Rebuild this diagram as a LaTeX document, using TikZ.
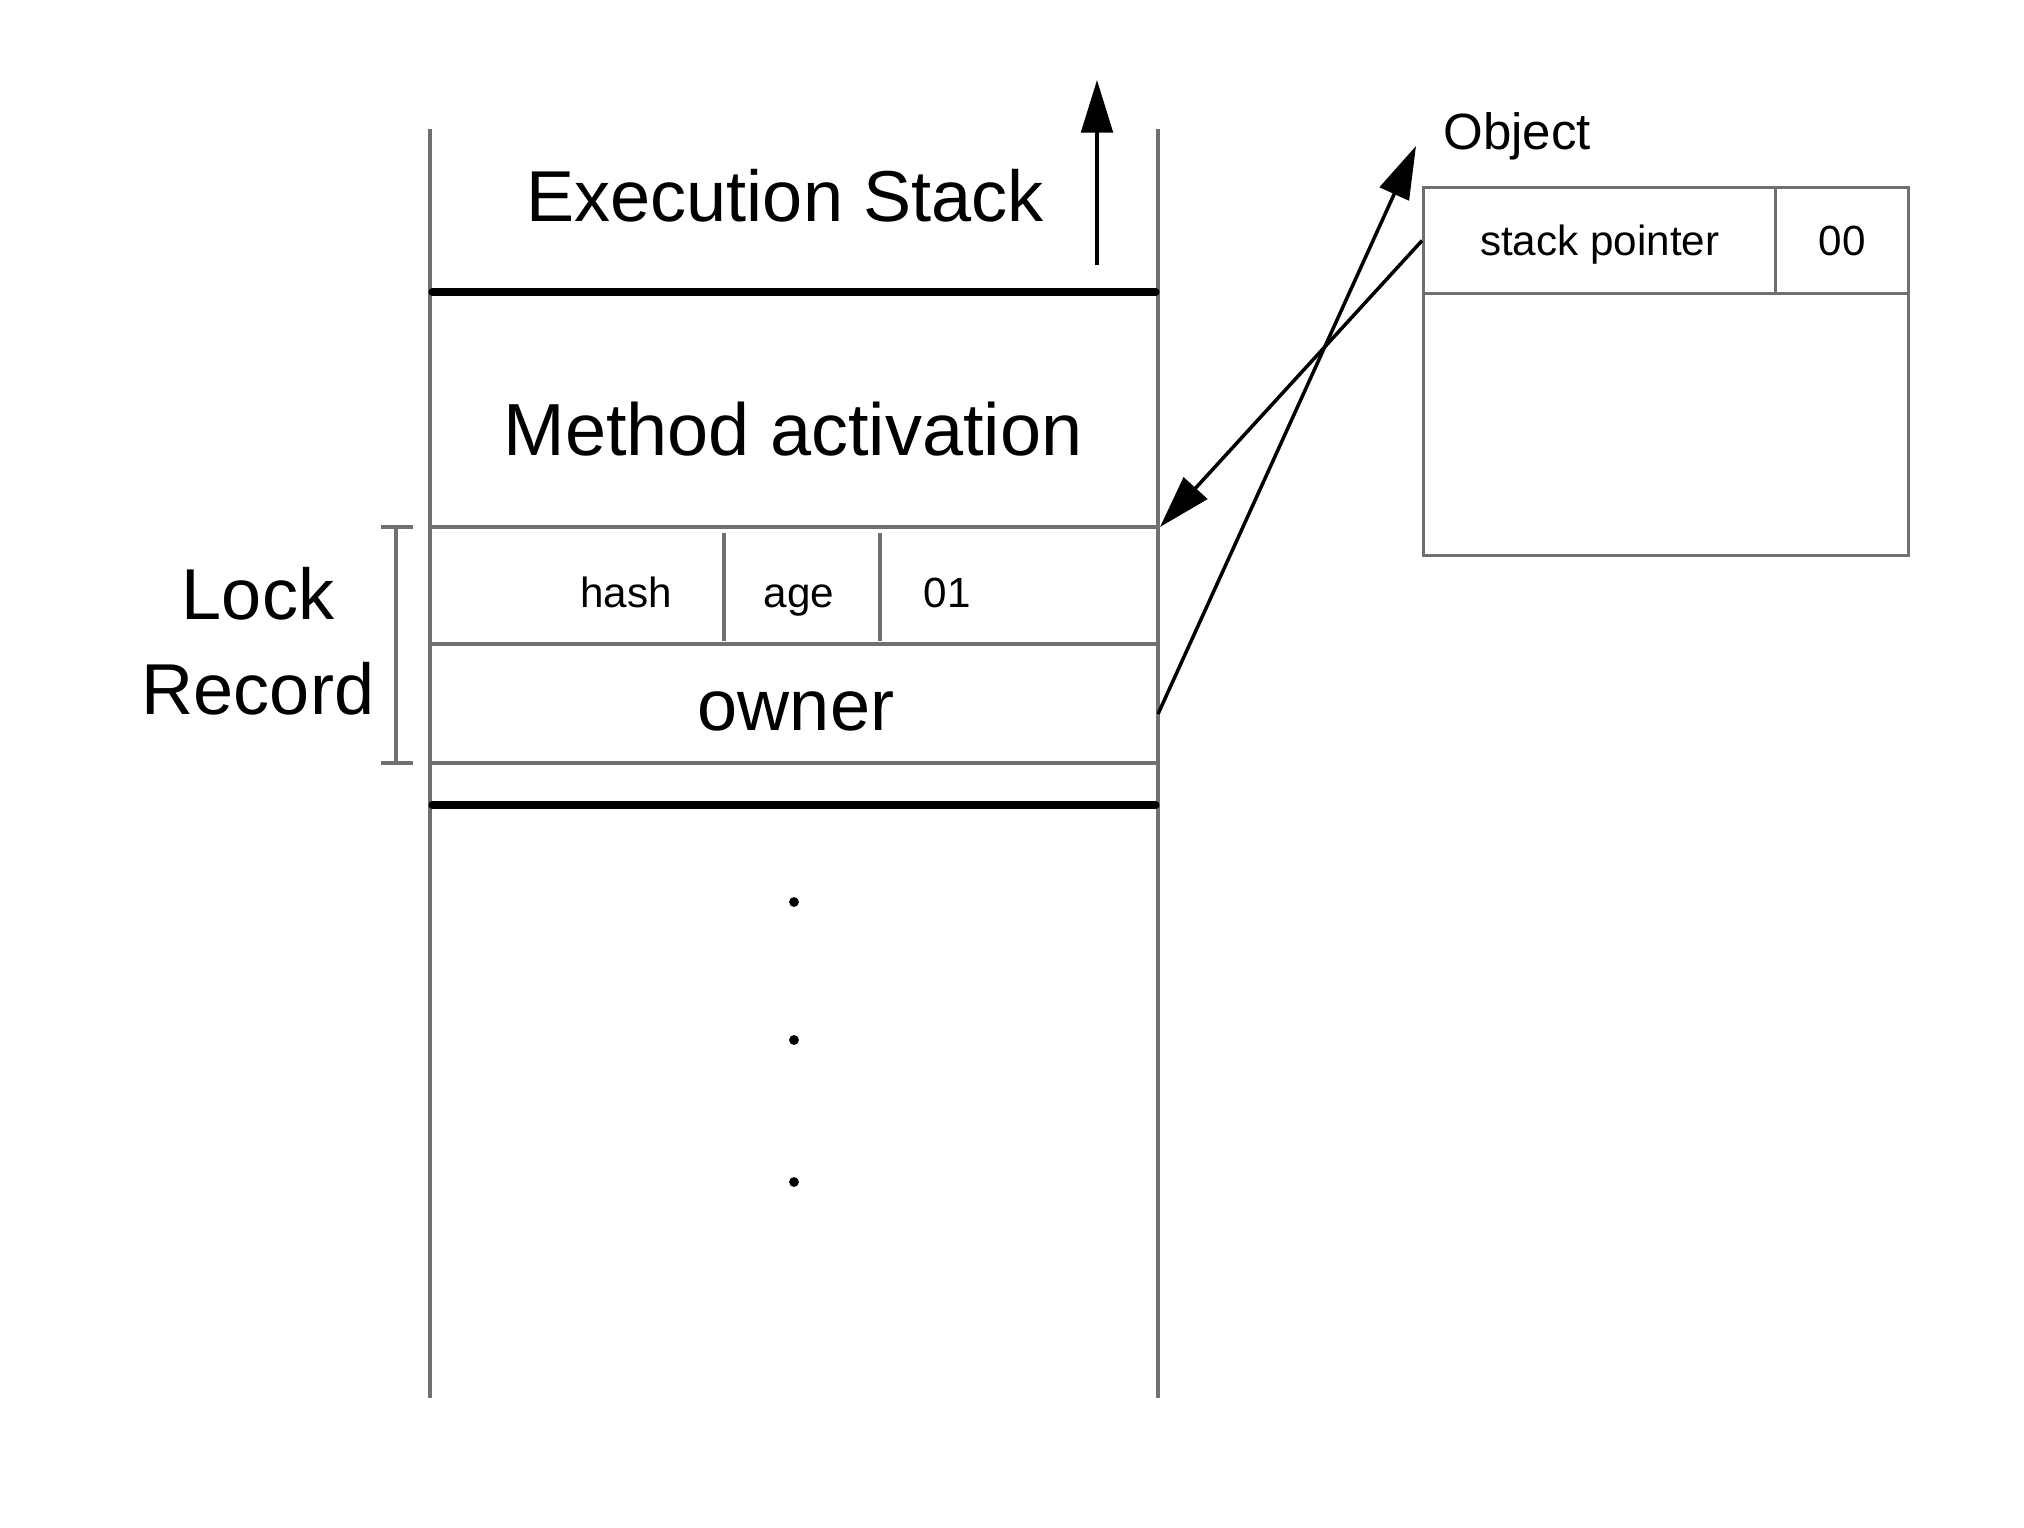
\documentclass[tikz,border=0pt]{standalone}
\usepackage{fontspec}
\setmainfont{Liberation Sans}
\usetikzlibrary{arrows.meta}
\definecolor{framegray}{HTML}{707070}
\tikzset{
  frame/.style={draw=framegray,line width=0.9pt},
  thickbar/.style={draw=black,line width=2pt,line cap=round},
  ptr/.style={draw=black,line width=1pt,-{Triangle[length=15pt,width=9pt]}},
  bigtext/.style={font=\fontsize{20.5}{24}\selectfont,anchor=base,inner sep=0pt},
  smalltext/.style={font=\fontsize{12}{14}\selectfont,anchor=base,inner sep=0pt},
  cell/.style={frame,inner sep=0pt,anchor=north west,text depth=0pt,font=\fontsize{12}{14}\selectfont},
}
\begin{document}
\begin{tikzpicture}[x=0.01cm,y=-0.01cm]
\useasboundingbox (0,0) rectangle (2024,1528);
% stack walls
\draw[frame] (430,129) -- (430,1398);
\draw[frame] (1158,129) -- (1158,1398);
\node[bigtext] (exec) at (785,222) {Execution Stack};
\coordinate (grow0) at (1097,265);
\coordinate (grow1) at (1097,80);
\draw[ptr] (grow0) -- (grow1);
\draw[thickbar] (432,292) -- (1156,292);
\node[bigtext,font=\fontsize{21}{24}\selectfont] (method) at (793,456) {Method activation};
% lock record
\coordinate (lrtop) at (1160,527);
\draw[frame] (432,527) -- (1156,527);
\draw[frame] (724,533) -- (724,641);
\draw[frame] (880,533) -- (880,641);
\node[smalltext] (hash) at (626,608) {hash};
\node[smalltext] (age) at (799,608) {age};
\node[smalltext] (mark) at (947,608) {01};
\draw[frame] (432,644) -- (1156,644);
\node[bigtext] (owner) at (796,731) {owner};
\coordinate (ownerend) at (1158,714);
\draw[frame] (432,763) -- (1156,763);
\draw[thickbar] (432,805) -- (1156,805);
\foreach \y in {902,1040,1182}
  \fill (794,\y) circle[radius=1.4pt];
% bracket
\draw[frame] (381,527) -- (413,527);
\draw[frame] (396,527) -- (396,763);
\draw[frame] (381,763) -- (413,763);
\node[bigtext] (lock) at (258,620) {Lock};
\node[bigtext] (record) at (258,715) {Record};
% object
\node[font=\fontsize{14.5}{17}\selectfont,anchor=base,inner sep=0pt] (obj) at (1517,150) {Object};
\coordinate (objtip) at (1416,146);
\node[cell,minimum width=3.52cm,minimum height=1.06cm] (sp) at (1422,186) {stack pointer};
\node[cell,minimum width=1.33cm,minimum height=1.06cm] (tag) at (1774,186) {00};
\node[cell,minimum width=4.85cm,minimum height=2.62cm] (body) at (1422,292) {};
\draw[ptr] (sp.west) -- (lrtop);
\draw[ptr] (ownerend) -- (objtip);
\end{tikzpicture}
\end{document}
